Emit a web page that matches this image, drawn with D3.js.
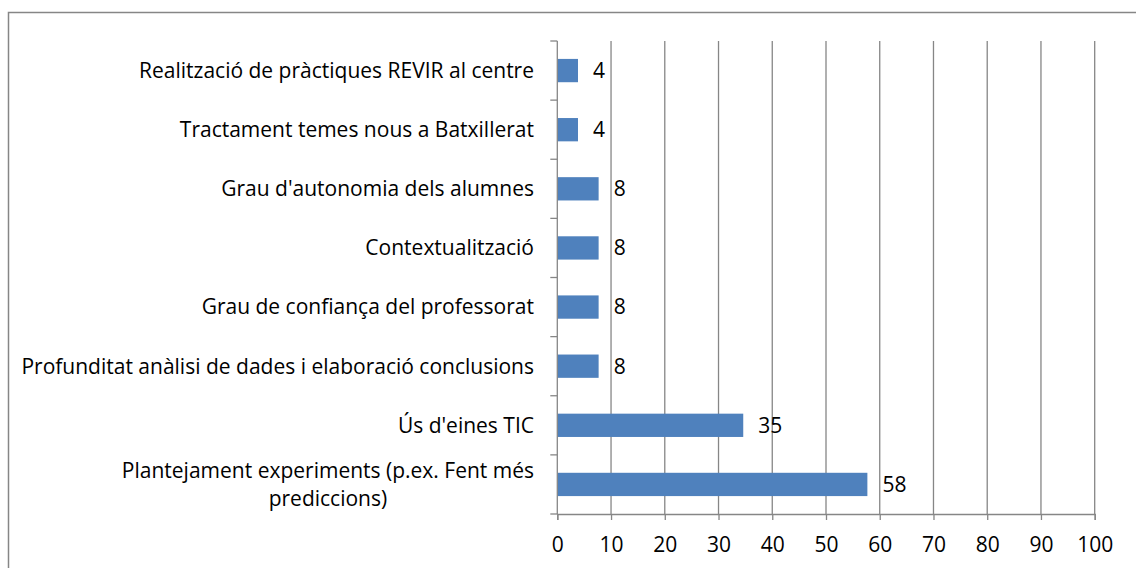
<!DOCTYPE html>
<html lang="ca">
<head>
    <meta charset="UTF-8">
    <title>Aspectes a millorar</title>
    <script src="https://d3js.org/d3.v7.min.js"></script>
    <style>
        body { margin: 0; background: #fff; }
        text { font-family: "Open Sans", "Noto Sans", sans-serif; fill: #000; }
    </style>
</head>
<body>
    <svg id="chart" width="1136" height="568"></svg>

    <script>
        // categories from top to bottom
        const categories = [
            "Realització de pràctiques REVIR al centre",
            "Tractament temes nous a Batxillerat",
            "Grau d'autonomia dels alumnes",
            "Contextualització",
            "Grau de confiança del professorat",
            "Profunditat anàlisi de dades i elaboració conclusions",
            "Ús d'eines TIC",
            "Plantejament experiments (p.ex. Fent més prediccions)"
        ];
        // percentages (bar lengths) and the rounded labels shown
        const values = [3.85, 3.85, 7.69, 7.69, 7.69, 7.69, 34.6, 57.7];
        const valueLabels = ["4", "4", "8", "8", "8", "8", "35", "58"];
        const xTicks = [0, 10, 20, 30, 40, 50, 60, 70, 80, 90, 100];

        const plot = { left: 557.3, right: 1094.7, top: 41, bottom: 514 };
        const fontSize = 21;

        const svg = d3.select("#chart");

        // outer frame, runs off the right and bottom of the picture
        svg.append("rect")
            .attr("x", 8.5).attr("y", 12.5)
            .attr("width", 1400).attr("height", 1000)
            .attr("fill", "none")
            .attr("stroke", "#868686")
            .attr("stroke-width", 1.5);

        const x = d3.scaleLinear().domain([0, 100]).range([plot.left, plot.right]);
        const y = d3.scaleBand().domain(categories).range([plot.top, plot.bottom]).padding(0);
        const barH = y.step() * 0.394;

        //vertical gridlines
        svg.append("g")
            .selectAll("line")
            .data(xTicks.slice(1))
            .join("line")
            .attr("x1", d => x(d)).attr("x2", d => x(d))
            .attr("y1", plot.top).attr("y2", plot.bottom)
            .attr("stroke", "#868686")
            .attr("stroke-width", 1.3);

        //bars
        svg.append("g")
            .selectAll("rect")
            .data(values)
            .join("rect")
            .attr("x", x(0))
            .attr("y", (d, i) => y(categories[i]) + (y.step() - barH) / 2)
            .attr("width", d => x(d) - x(0))
            .attr("height", barH)
            .attr("fill", "#4f81bd");

        //x axis at the bottom
        const xAxis = svg.append("g")
            .attr("transform", `translate(0,${plot.bottom})`)
            .call(d3.axisBottom(x).tickValues(xTicks).tickSize(6).tickPadding(17).tickFormat(d3.format("d")));
        xAxis.select(".domain").attr("stroke", "#868686").attr("stroke-width", 1.3);
        xAxis.selectAll(".tick line").attr("stroke", "#868686").attr("stroke-width", 1.3);
        xAxis.selectAll(".tick text").attr("font-size", fontSize).attr("font-family", null);

        //y axis, ticks sit between categories
        const yEdges = categories.map(c => y(c)).concat([plot.bottom]);
        svg.append("line")
            .attr("x1", plot.left).attr("x2", plot.left)
            .attr("y1", plot.top).attr("y2", plot.bottom)
            .attr("stroke", "#868686").attr("stroke-width", 1.3);
        svg.append("g")
            .selectAll("line")
            .data(yEdges)
            .join("line")
            .attr("x1", plot.left - 7).attr("x2", plot.left)
            .attr("y1", d => d).attr("y2", d => d)
            .attr("stroke", "#868686").attr("stroke-width", 1.3);

        //category labels, long ones wrap and centre
        const maxLabel = 524;
        const labels = svg.append("g")
            .selectAll("text")
            .data(categories)
            .join("text")
            .attr("font-size", fontSize)
            .attr("text-anchor", "end")
            .attr("x", 534)
            .attr("y", d => y(d) + y.step() / 2)
            .attr("dy", "0.35em")
            .text(d => d);

        labels.each(function (d) {
            const t = d3.select(this);
            if (this.getComputedTextLength() <= maxLabel) return;
            const words = d.split(" ");
            const lines = [];
            let line = [];
            t.text(null);
            const probe = t.append("tspan");
            words.forEach(w => {
                probe.text(line.concat([w]).join(" "));
                if (probe.node().getComputedTextLength() > maxLabel && line.length) {
                    lines.push(line.join(" "));
                    line = [w];
                } else {
                    line.push(w);
                }
            });
            lines.push(line.join(" "));
            // widest line decides the centre
            const widths = lines.map(l => { probe.text(l); return probe.node().getComputedTextLength(); });
            probe.remove();
            const cx = 534 - d3.max(widths) / 2;
            const lh = 28;
            const y0 = y(d) + y.step() / 2 - (lines.length - 1) * lh / 2;
            t.attr("text-anchor", "middle");
            lines.forEach((l, i) => {
                t.append("tspan").attr("x", cx).attr("y", y0 + i * lh).attr("dy", "0.35em").text(l);
            });
        });

        //value labels
        svg.append("g")
            .selectAll("text")
            .data(values)
            .join("text")
            .attr("font-size", fontSize)
            .attr("x", d => x(d) + 15)
            .attr("y", (d, i) => y(categories[i]) + y.step() / 2)
            .attr("dy", "0.35em")
            .text((d, i) => valueLabels[i]);
    </script>
</body>
</html>
